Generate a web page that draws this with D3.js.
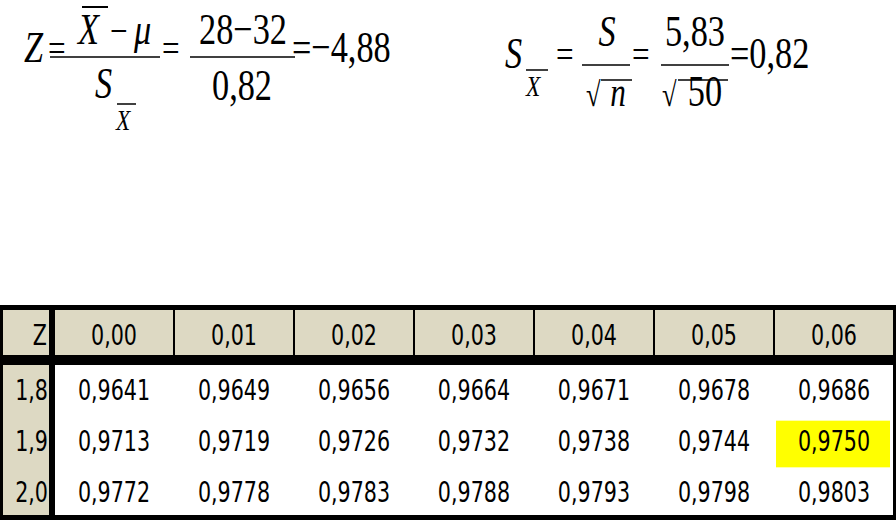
<!DOCTYPE html><html><head><meta charset="utf-8"><script src="https://cdn.jsdelivr.net/npm/d3@7"></script>
<style>body{margin:0;background:#fff}</style></head><body><svg id="c" width="896" height="520"></svg>
<script>
const colLabels=["0,00","0,01","0,02","0,03","0,04","0,05","0,06"];
const rowLabels=["1,8","1,9","2,0"];
const row18=["0,9641","0,9649","0,9656","0,9664","0,9671","0,9678","0,9686"];
const row19=["0,9713","0,9719","0,9726","0,9732","0,9738","0,9744","0,9750"];
const row20=["0,9772","0,9778","0,9783","0,9788","0,9793","0,9798","0,9803"];
const rows=[row18,row19,row20];
const highlight={row:1,col:6};
const svg=d3.select("#c");
const serif="Liberation Serif, DejaVu Serif, serif";
const sans="Liberation Sans Narrow, DejaVu Sans Condensed, sans-serif";
function t(x,y,s,size,anchor,opts={}){const e=svg.append("text").attr("x",x).attr("y",y).style("font-family",serif).attr("font-size",size).attr("text-anchor",anchor||"start").attr("transform",`translate(${x},${y}) scale(0.78,1) translate(${-x},${-y})`).text(s);if(opts.italic)e.attr("font-style","italic");return e;}
function line(x1,y1,x2,y2,w){svg.append("line").attr("x1",x1).attr("y1",y1).attr("x2",x2).attr("y2",y2).attr("stroke","#000").attr("stroke-width",w||1.5);}
// formula 1
t(24,62,"Z",44,"start",{italic:true});
t(48,62,"=",40);
t(78,44,"X",44,"start",{italic:true}); line(82,7,108,7,2);
t(110,44,"−",40); t(134,44,"μ",44,"start",{italic:true});
line(50,57,160,57);
t(95,98,"S",44,"start",{italic:true}); t(116,130,"X",30,"start",{italic:true}); line(117,104,136,104,1.5);
t(162,62,"=",40);
t(243,44,"28−32",44,"middle"); line(190,57,295,57);
t(242,100,"0,82",44,"middle");
t(292,62,"=−4,88",44);
// formula 2
t(505,68,"S",44,"start",{italic:true}); t(526,96,"X",30,"start",{italic:true}); line(526,70,548,70,1.5);
t(556,68,"=",40);
t(607,46,"S",44,"middle",{italic:true}); line(582,65,630,65);
t(586,106,"√",34); t(618,106,"n",40,"middle",{italic:true}); line(601,80,632,80,1.5);
t(632,68,"=",40);
t(695,46,"5,83",44,"middle"); line(661,65,729,65);
t(662,106,"√",34); t(705,106,"50",44,"middle"); line(678,80,728,80,1.5);
t(730,68,"=0,82",44);
// table
const x=d3.scaleBand().domain(colLabels).range([54,894]);
const y=d3.scaleBand().domain(rowLabels).range([365,517]);
const g=svg.append("g").style("font-family",sans).attr("font-size",28);
g.append("rect").attr("x",0).attr("y",305).attr("width",896).attr("height",215).attr("fill","#000");
g.append("rect").attr("x",3).attr("y",310).attr("width",46).attr("height",45).attr("fill","#ddd9c3");
g.selectAll(".h").data(colLabels).join("rect").attr("x",d=>x(d)+1).attr("y",310).attr("width",x.bandwidth()-2).attr("height",45).attr("fill","#ddd9c3");
g.append("rect").attr("x",3).attr("y",365).attr("width",46).attr("height",150).attr("fill","#ddd9c3");
g.append("rect").attr("x",55).attr("y",365).attr("width",838).attr("height",150).attr("fill","#fff");
g.append("rect").attr("x",x(colLabels[highlight.col])+2).attr("y",y(rowLabels[highlight.row])+5).attr("width",x.bandwidth()-6).attr("height",y.bandwidth()-4).attr("fill","#ffff00");
function st(xx,yy,s,a){g.append("text").attr("x",xx).attr("y",yy).attr("text-anchor",a).attr("transform",`translate(${xx},${yy}) scale(0.82,1) translate(${-xx},${-yy})`).text(s);}
st(47,345,"Z","end");
colLabels.forEach(c=>st(x(c)+x.bandwidth()/2,345,c,"middle"));
rowLabels.forEach((r,i)=>{st(48,y(r)+y.bandwidth()/2+10,r,"end");rows[i].forEach((v,j)=>st(x(colLabels[j])+x.bandwidth()/2,y(r)+y.bandwidth()/2+10,v,"middle"));});
</script></body></html>
